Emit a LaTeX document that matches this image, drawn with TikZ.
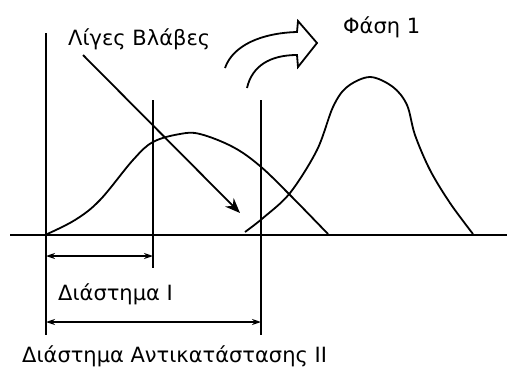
\documentclass[tikz,border=0pt]{standalone}
\usepackage{fontspec}
\setmainfont{DejaVu Sans}
\usetikzlibrary{arrows.meta}
\begin{document}
\begin{tikzpicture}[x=1pt,y=-1pt,
  lbl/.style={inner sep=0pt,anchor=base west,font=\fontsize{21}{25}\selectfont},
  curve/.style={line width=1.8pt},
  vline/.style={line width=2pt},
  dim/.style={line width=1.8pt,{Stealth[length=9pt,width=6pt]}-{Stealth[length=9pt,width=6pt]}},
  diag/.style={line width=1.8pt,-{Stealth[length=15pt,width=12pt]}}]
\useasboundingbox (0,0) rectangle (507,368);
% axis
\coordinate (axL) at (10,235);
\coordinate (axR) at (507,235);
\draw[line width=2pt] (axL) -- (axR);
% vertical lines
\coordinate (v1t) at (46,33);  \coordinate (v1b) at (46,335);
\coordinate (v2t) at (153,100); \coordinate (v2b) at (153,268);
\coordinate (v3t) at (261,100); \coordinate (v3b) at (261,335);
\draw[vline] (v1t) -- (v1b);
\draw[vline] (v2t) -- (v2b);
\draw[vline] (v3t) -- (v3b);
% left bell
\draw[curve] plot[smooth,tension=0.6] coordinates {(45,235) (75,220) (100,200) (133,160) (153,142) (180,134) (200,134) (233,147) (260,166) (290,195) (328,234)};
% right bell
\draw[curve] plot[smooth,tension=0.55] coordinates {(245,232) (263,218) (290,193) (317,150) (333,107) (347,87) (370,77) (393,87) (407,105) (415,135) (430,170) (450,203) (473,234)};
% dimension arrows
\coordinate (d1a) at (46,256); \coordinate (d1b) at (153,256);
\coordinate (d2a) at (46,322); \coordinate (d2b) at (261,322);
\draw[dim] (d1a) -- (d1b);
\draw[dim] (d2a) -- (d2b);
% diagonal arrow
\coordinate (ga) at (83,55); \coordinate (gb) at (240,213);
\draw[diag] (ga) -- (gb);
% hollow curved arrow
\coordinate (o1) at (225,68); \coordinate (o2) at (297,32);
\coordinate (h1) at (298,21); \coordinate (ht) at (317,43); \coordinate (h2) at (298,67);
\coordinate (i1) at (297,55); \coordinate (i2) at (247,88);
\draw[curve,line join=miter] (o1) .. controls (233,45) and (262,33) .. (o2) -- (h1) -- (ht) -- (h2) -- (i1) .. controls (270,55) and (252,66) .. (i2);
% labels
\node[lbl] (lv) at (68,45) {Λίγες Βλάβες};
\node[lbl] (ph) at (343,33) {Φάση 1};
\node[lbl] (d1) at (58,300) {Διάστημα I};
\node[lbl] (d2) at (22,362) {Διάστημα Αντικατάστασης II};
\end{tikzpicture}
\end{document}
